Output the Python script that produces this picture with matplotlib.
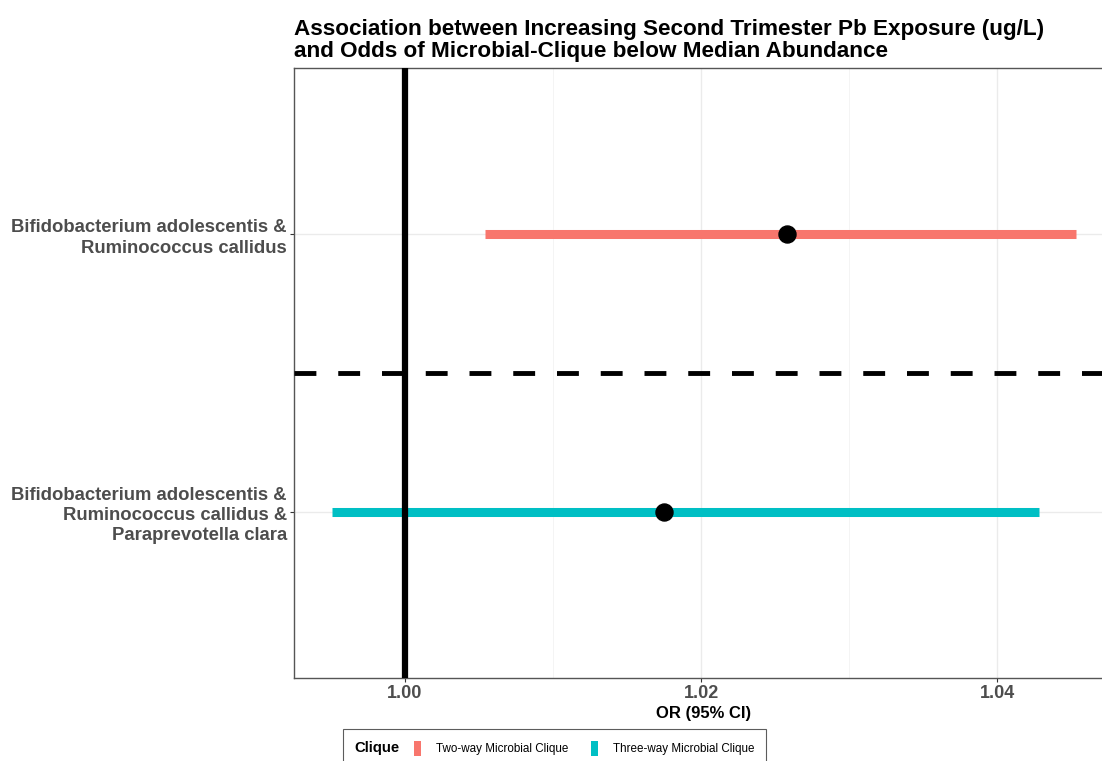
import matplotlib.pyplot as plt
from matplotlib.patches import Patch
from matplotlib.offsetbox import HPacker

plt.rcParams['font.family'] = ['Liberation Sans', 'DejaVu Sans']

# odds ratios and 95% CI per clique (y=2 top, y=1 bottom)
cliques = ["Two-way Microbial Clique", "Three-way Microbial Clique"]
labels = ["Bifidobacterium adolescentis &\nRuminococcus callidus",
          "Bifidobacterium adolescentis &\nRuminococcus callidus &\nParaprevotella clara"]
ypos = [2, 1]
est = [1.0258, 1.0175]
lower = [1.0054, 0.9951]
upper = [1.0453, 1.0428]
colors = ["#F8766D", "#00BFC4"]

fig = plt.figure(figsize=(11.02, 7.61), dpi=100)
ax = fig.add_axes([294 / 1102, 1 - 678 / 761, 1 - 294 / 1102 + 0.01, 610 / 761])

for y, lo, hi, c in zip(ypos, lower, upper, colors):
    ax.hlines(y, lo, hi, color=c, lw=6.5, zorder=3)
ax.scatter(est, ypos, s=150, color="black", zorder=4)

ax.axvline(1.0, color="black", lw=4.5, zorder=5)
ax.axhline(1.5, color="black", lw=3.5, ls=(0, (4.5, 4.5)), zorder=5)

ax.set_xlim(0.99251, 1.0478)
ax.set_ylim(0.4, 2.6)
ax.set_xticks([1.00, 1.02, 1.04])
ax.set_xticklabels(["1.00", "1.02", "1.04"])
ax.set_xticks([1.01, 1.03], minor=True)
ax.set_yticks(ypos)
ax.set_yticklabels(labels, fontsize=13.3, fontweight="bold", color="#4D4D4D",
                   linespacing=1.25)
for t in ax.get_xticklabels():
    t.set_fontsize(13)
    t.set_fontweight("bold")
    t.set_color("#4D4D4D")

ax.grid(which="major", color="#EBEBEB", lw=1.0, zorder=0)
ax.grid(which="minor", axis="x", color="#F2F2F2", lw=0.6, zorder=0)
ax.set_axisbelow(True)
ax.tick_params(axis="both", which="major", length=3, width=0.8, color="#333333", pad=2)
ax.tick_params(which="minor", length=0)
for s in ["left", "bottom", "top"]:
    ax.spines[s].set_color("#555555")
    ax.spines[s].set_linewidth(1.0)
ax.spines["right"].set_visible(False)

ax.set_xlabel("OR (95% CI)", fontsize=12, fontweight="bold", labelpad=3)

fig.text(294 / 1102, 1 - 40.5 / 761, "Association between Increasing Second Trimester Pb Exposure (ug/L)\n"
         "and Odds of Microbial-Clique below Median Abundance",
         fontsize=16.2, fontweight="bold", ha="left", va="center", linespacing=1.1)

handles = [Patch(facecolor=c, edgecolor="none") for c in colors]
leg = fig.legend(handles, cliques, loc="upper left", bbox_to_anchor=(343 / 1102, 1 - 729 / 761),
                 ncol=2, frameon=True, fontsize=8.4, title="Clique", borderaxespad=0,
                 handlelength=0.6, handleheight=1.6, columnspacing=1.9, handletextpad=1.3,
                 borderpad=0.5, fancybox=False)
leg.get_title().set_fontweight("bold")
leg.get_title().set_fontsize(10.7)
leg.get_frame().set_edgecolor("#333333")
leg.get_frame().set_linewidth(0.8)
# legend title sits to the left of the keys, as in ggplot's bottom legend
title_box = leg._legend_title_box
body = leg._legend_box._children[1]
leg._legend_box = HPacker(pad=8.5, sep=10, align="center",
                          children=[title_box, body])
leg._legend_box.set_figure(fig)
leg._legend_box.set_offset(leg._findoffset)

fig.savefig("out.png", dpi=100)
